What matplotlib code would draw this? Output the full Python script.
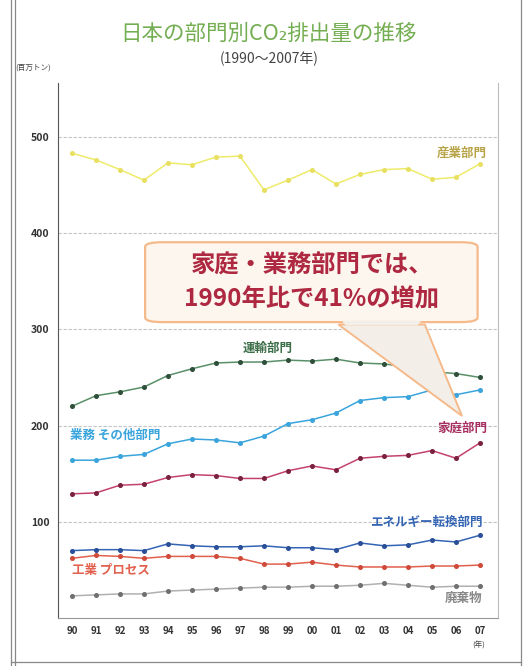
import matplotlib.pyplot as plt
from matplotlib.patches import FancyBboxPatch, Polygon
from matplotlib.lines import Line2D

plt.rcParams['font.family'] = ['Noto Sans CJK JP', 'DejaVu Sans']

# -------------------------------
# Data (million tonnes CO2)
# -------------------------------

years = [1990, 1991, 1992, 1993, 1994, 1995, 1996, 1997, 1998,
         1999, 2000, 2001, 2002, 2003, 2004, 2005, 2006, 2007]
year_labels = ["90", "91", "92", "93", "94", "95", "96", "97", "98",
               "99", "00", "01", "02", "03", "04", "05", "06", "07"]

industry = [483, 476, 466, 455, 473, 471, 479, 480, 445,
            455, 466, 451, 461, 466, 467, 456, 458, 472]
transport = [220, 231, 235, 240, 252, 259, 265, 266, 266,
             268, 267, 269, 265, 264, 261, 256, 254, 250]
commercial = [164, 164, 168, 170, 181, 186, 185, 182, 189,
              202, 206, 213, 226, 229, 230, 237, 232, 237]
household = [129, 130, 138, 139, 146, 149, 148, 145, 145,
             153, 158, 154, 166, 168, 169, 174, 166, 182]
energy = [70, 71, 71, 70, 77, 75, 74, 74, 75,
          73, 73, 71, 78, 75, 76, 81, 79, 86]
process = [62, 65, 64, 62, 64, 64, 64, 62, 56,
           56, 58, 55, 53, 53, 53, 54, 54, 55]
waste = [23, 24, 25, 25, 28, 29, 30, 31, 32,
         32, 33, 33, 34, 36, 34, 32, 33, 33]

y_ticks = [100, 200, 300, 400, 500]

# ---------------------------------
# Figure
# ---------------------------------

fig = plt.figure(figsize=(5.29, 6.66), dpi=100)
ax = fig.add_axes([0.1096, 0.0721, 0.8318, 0.8033])

series = [
    (industry, "#eeeb6a", "#e8e060"),
    (transport, "#5a9068", "#2f4f3a"),
    (commercial, "#3aa4dc", "#3aa4dc"),
    (household, "#c4426e", "#7a2040"),
    (energy, "#3464b4", "#2a4f98"),
    (process, "#e2604e", "#d04a3a"),
    (waste, "#b0b0b0", "#707070"),
]
for vals, col, mcol in series:
    ax.plot(years, vals, color=col, lw=1.1, marker="o", ms=2.6,
            mfc=mcol, mec=mcol, zorder=3)

ax.set_xlim(1989.42, 2007.75)
ax.set_ylim(0, 556)
ax.set_xticks(years)
ax.set_xticklabels(year_labels, fontsize=7, fontweight="bold", color="#333333")
ax.set_yticks(y_ticks)
ax.set_yticklabels([str(v) for v in y_ticks], fontsize=7.5,
                   fontweight="bold", color="#333333")
ax.tick_params(length=0, pad=6)
ax.grid(axis="y", color="#c4c4c4", lw=0.8, ls=(0, (3, 1.5)))

ax.spines["top"].set_visible(False)
ax.spines["right"].set_color("#bbbbbb")
ax.spines["left"].set_color("#555555")
ax.spines["bottom"].set_color("#999999")

# ---------------------------------
# Series labels
# ---------------------------------

lab = dict(fontsize=9, fontweight="bold")
ax.text(2007.3, 483, "産業部門", color="#b8a448", ha="right", va="center", **lab)
ax.text(1997.1, 280, "運輸部門", color="#3c6e48", ha="left", va="center", **lab)
ax.text(1989.92, 190, "業務 その他部門", color="#3aa4dc", ha="left", va="center", **lab)
ax.text(2007.3, 197, "家庭部門", color="#a83060", ha="right", va="center", **lab)
ax.text(2007.1, 99, "エネルギー転換部門", color="#3464b4", ha="right", va="center", **lab)
ax.text(1990.0, 49, "工業 プロセス", color="#e2604e", ha="left", va="center", **lab)
ax.text(2007.1, 20, "廃棄物", color="#888888", ha="right", va="center", **lab)

# ---------------------------------
# Callout
# ---------------------------------

tri = Polygon([(2001.1, 305), (2004.7, 305), (2006.25, 210)], closed=True,
              facecolor="#f3efe8", edgecolor="#f5b98a", lw=1.4, zorder=4)
ax.add_patch(tri)
box = FancyBboxPatch((1993.05, 307.5), 13.85, 83,
                     boxstyle="round,pad=0,rounding_size=0.7",
                     mutation_aspect=7,
                     facecolor="#fdf6ee", edgecolor="#f5b98a", lw=1.6, zorder=5)
ax.add_patch(box)
ax.add_patch(Polygon([(2001.25, 309), (2004.55, 309), (2004.4, 304), (2001.4, 304)],
                     closed=True, facecolor="#f3efe8", edgecolor="none", zorder=6))
ax.text(2000.0, 366, "家庭・業務部門では、", color="#ad2840", fontsize=17.5,
        fontweight="bold", ha="center", va="center", zorder=7)
ax.text(2000.0, 331, "1990年比で41%の増加", color="#ad2840", fontsize=17.5,
        fontweight="bold", ha="center", va="center", zorder=7)

# ---------------------------------
# Titles and unit labels
# ---------------------------------

fig.text(0.508, 0.949, "日本の部門別CO₂排出量の推移", color="#74ae52",
         fontsize=15.5, ha="center", va="center")
fig.text(0.508, 0.912, "(1990～2007年)", color="#444444",
         fontsize=10, ha="center", va="center")
fig.text(0.062, 0.898, "(百万トン)", color="#444444", fontsize=5.5,
         ha="center", va="center")
fig.text(0.905, 0.031, "(年)", color="#444444", fontsize=5.5,
         ha="center", va="center")

# outer frame of the scanned page
for xs, ys in [([0.021, 0.021], [0.0, 1.0]), ([0.028, 0.028], [0.0, 1.0]),
               ([0.985, 0.985], [0.0, 1.0]), ([0.021, 0.985], [0.006, 0.006])]:
    fig.add_artist(Line2D(xs, ys, color="#888888", lw=0.9))

fig.savefig("out.png", dpi=100)
